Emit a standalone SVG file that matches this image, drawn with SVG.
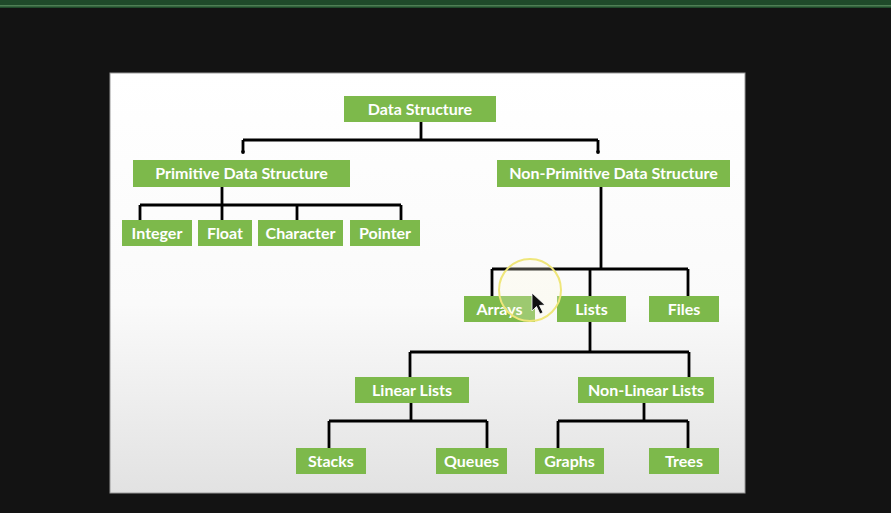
<svg xmlns="http://www.w3.org/2000/svg" width="891" height="513" viewBox="0 0 891 513">
<style>
.n rect{fill:#7db94b}
.n text{fill:#ffffff;font-family:Lato,"Open Sans","Liberation Sans",sans-serif;font-weight:bold;font-size:16px;text-anchor:middle}
.c{stroke:#000;stroke-width:2.8;fill:none}
</style>
<defs>
<linearGradient id="slide" x1="0" y1="0" x2="0" y2="1">
<stop offset="0" stop-color="#ffffff"/>
<stop offset="0.55" stop-color="#fafafa"/>
<stop offset="1" stop-color="#e2e2e2"/>
</linearGradient>
</defs>
<rect x="0" y="0" width="891" height="513" fill="#131313"/>
<rect x="0" y="0" width="891" height="8" fill="#1f4a2a"/>
<rect x="0" y="5" width="891" height="1.5" fill="#4f7f55"/>
<rect x="110" y="73" width="635" height="420" fill="url(#slide)" stroke="#9a9a9a" stroke-width="1"/>

<g id="connectors" class="c">
<path d="M421 122V140M243 140H598M243 140V152M598 140V152"/>
<circle cx="243" cy="152" r="1.9" fill="#000" stroke="none"/>
<circle cx="598" cy="152" r="1.9" fill="#000" stroke="none"/>
<path d="M222 187V205M140 205H401M140 205V220M222 205V220M297 205V220M401 205V220"/>
<path d="M601 187V269M492 269H688M492 269V296M590 269V296M688 269V296"/>
<path d="M590 322V352M410 352H689M410 352V377M689 352V377"/>
<path d="M411 403V421M329 421H487M329 421V448M487 421V448"/>
<path d="M644 403V421M558 421H688M558 421V448M688 421V448"/>
</g>

<g id="n-ds" class="n"><rect x="344" y="96" width="152" height="26"/><text x="420" y="114.5">Data Structure</text></g>
<g id="n-pds" class="n"><rect x="133" y="160" width="217" height="27"/><text x="241.5" y="179">Primitive Data Structure</text></g>
<g id="n-npds" class="n"><rect x="497" y="160" width="233" height="27"/><text x="613.5" y="179">Non-Primitive Data Structure</text></g>
<g id="n-integer" class="n"><rect x="122" y="220" width="70" height="26"/><text x="157" y="238.5">Integer</text></g>
<g id="n-float" class="n"><rect x="198" y="220" width="54" height="26"/><text x="225" y="238.5">Float</text></g>
<g id="n-character" class="n"><rect x="258" y="220" width="85" height="26"/><text x="300.5" y="238.5">Character</text></g>
<g id="n-pointer" class="n"><rect x="350" y="220" width="70" height="26"/><text x="385" y="238.5">Pointer</text></g>
<g id="n-arrays" class="n"><rect x="464" y="296" width="71" height="26"/><text x="499.5" y="314.5">Arrays</text></g>
<g id="n-lists" class="n"><rect x="557" y="296" width="69" height="26"/><text x="591.5" y="314.5">Lists</text></g>
<g id="n-files" class="n"><rect x="649" y="296" width="70" height="26"/><text x="684" y="314.5">Files</text></g>
<g id="n-linear" class="n"><rect x="355" y="377" width="114" height="26"/><text x="412" y="395.5">Linear Lists</text></g>
<g id="n-nonlinear" class="n"><rect x="578" y="377" width="136" height="26"/><text x="646" y="395.5">Non-Linear Lists</text></g>
<g id="n-stacks" class="n"><rect x="296" y="448" width="70" height="26"/><text x="331" y="466.5">Stacks</text></g>
<g id="n-queues" class="n"><rect x="436" y="448" width="71" height="26"/><text x="471.5" y="466.5">Queues</text></g>
<g id="n-graphs" class="n"><rect x="535" y="448" width="69" height="26"/><text x="569.5" y="466.5">Graphs</text></g>
<g id="n-trees" class="n"><rect x="649" y="448" width="70" height="26"/><text x="684" y="466.5">Trees</text></g>

<g id="cursor">
<circle cx="530" cy="290" r="31" fill="#fffbe0" fill-opacity="0.25" stroke="#efe67a" stroke-width="2"/>
<path d="M532 293V311L536.5 306.5L540 314L543 312.5L539.5 305.5L545 305Z" fill="#111" stroke="#fff" stroke-width="0.8"/>
</g>
</svg>
